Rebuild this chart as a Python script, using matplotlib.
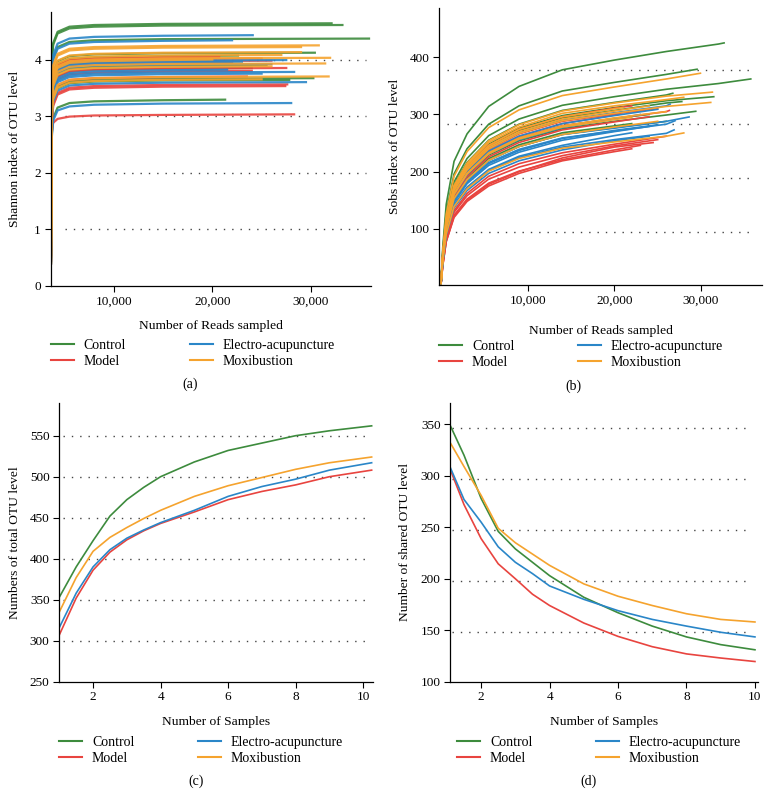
import matplotlib.pyplot as plt

plt.rcParams['font.family'] = ['Liberation Serif', 'DejaVu Serif']

groups = ["Control", "Model", "Electro-acupuncture", "Moxibustion"]
colors = ["#3d8b3d", "#e8443f", "#2a86c8", "#f5a32e"]

# (a) Shannon index rarefaction, values at shared read depths, last value = end of curve
a_reads = [3620, 3700, 3850, 4300, 5500, 8000, 15000]
ctrl_a_end = [32100, 33200, 35900, 30400, 22600, 24000, 30250, 27800, 21300, 25500]
ctrl_a = [
    [0.4, 3.94, 4.29, 4.49, 4.58, 4.61, 4.63, 4.64],
    [0.4, 3.91, 4.26, 4.46, 4.55, 4.58, 4.60, 4.61],
    [0.4, 3.67, 4.02, 4.22, 4.31, 4.34, 4.36, 4.37],
    [0.4, 3.42, 3.77, 3.97, 4.06, 4.09, 4.11, 4.12],
    [0.4, 3.37, 3.72, 3.92, 4.01, 4.04, 4.06, 4.07],
    [0.4, 3.15, 3.50, 3.70, 3.79, 3.82, 3.84, 3.85],
    [0.4, 2.97, 3.32, 3.52, 3.61, 3.64, 3.66, 3.67],
    [0.4, 2.94, 3.29, 3.49, 3.58, 3.61, 3.63, 3.64],
    [0.4, 2.65, 2.96, 3.15, 3.23, 3.26, 3.28, 3.29],
    [0.4, 3.20, 3.55, 3.75, 3.84, 3.87, 3.89, 3.90],
]
model_a_end = [20700, 27500, 27600, 27400, 28300, 26000, 24000, 22000, 25000, 23500]
model_a = [
    [0.4, 3.35, 3.70, 3.90, 3.99, 4.02, 4.04, 4.05],
    [0.4, 3.15, 3.50, 3.70, 3.79, 3.82, 3.84, 3.85],
    [0.4, 2.86, 3.21, 3.41, 3.50, 3.53, 3.55, 3.56],
    [0.4, 2.83, 3.18, 3.38, 3.47, 3.50, 3.52, 3.53],
    [0.4, 2.70, 2.88, 2.95, 2.99, 3.01, 3.02, 3.03],
    [0.4, 3.28, 3.63, 3.83, 3.92, 3.95, 3.97, 3.98],
    [0.4, 3.10, 3.45, 3.65, 3.74, 3.77, 3.79, 3.80],
    [0.4, 3.24, 3.59, 3.79, 3.88, 3.91, 3.93, 3.94],
    [0.4, 3.32, 3.67, 3.87, 3.96, 3.99, 4.01, 4.02],
    [0.4, 3.00, 3.35, 3.55, 3.64, 3.67, 3.69, 3.70],
]
ea_a_end = [24100, 27500, 28300, 29500, 28000, 21500, 26000, 25000, 23000, 22000]
ea_a = [
    [0.4, 3.73, 4.08, 4.28, 4.37, 4.40, 4.42, 4.43],
    [0.4, 3.29, 3.64, 3.84, 3.93, 3.96, 3.98, 3.99],
    [0.4, 3.08, 3.43, 3.63, 3.72, 3.75, 3.77, 3.78],
    [0.4, 2.90, 3.25, 3.45, 3.54, 3.57, 3.59, 3.60],
    [0.4, 2.60, 2.92, 3.10, 3.17, 3.20, 3.22, 3.23],
    [0.4, 3.12, 3.47, 3.67, 3.76, 3.79, 3.81, 3.82],
    [0.4, 3.22, 3.57, 3.77, 3.86, 3.89, 3.91, 3.92],
    [0.4, 3.05, 3.40, 3.60, 3.69, 3.72, 3.74, 3.75],
    [0.4, 3.26, 3.61, 3.81, 3.90, 3.93, 3.95, 3.96],
    [0.4, 3.64, 3.99, 4.19, 4.28, 4.31, 4.33, 4.34],
]
moxi_a_end = [30800, 29000, 29000, 31950, 31450, 31800, 27000, 26000, 25000, 20000]
moxi_a = [
    [0.4, 3.55, 3.90, 4.10, 4.19, 4.22, 4.24, 4.25],
    [0.4, 3.52, 3.87, 4.07, 4.16, 4.19, 4.21, 4.22],
    [0.4, 3.43, 3.78, 3.98, 4.07, 4.10, 4.12, 4.13],
    [0.4, 3.33, 3.68, 3.88, 3.97, 4.00, 4.02, 4.03],
    [0.4, 3.23, 3.58, 3.78, 3.87, 3.90, 3.92, 3.93],
    [0.4, 3.00, 3.35, 3.55, 3.64, 3.67, 3.69, 3.70],
    [0.4, 3.38, 3.73, 3.93, 4.02, 4.05, 4.07, 4.08],
    [0.4, 3.18, 3.53, 3.73, 3.82, 3.85, 3.87, 3.88],
    [0.4, 2.95, 3.30, 3.50, 3.59, 3.62, 3.64, 3.65],
    [0.4, 3.30, 3.65, 3.85, 3.94, 3.97, 3.99, 4.00],
]

# (b) Sobs rarefaction, values at read depths below the end, last value = end of curve
b_reads = [0, 200, 600, 1500, 3000, 5500, 9000, 14000, 20000, 26000, 32000]
ctrl_b_end = [32660, 29540, 35740, 26740, 31470, 27780, 29390, 24000, 26000, 22000]
ctrl_b = [
    [7, 68, 143, 218, 266, 314, 349, 378, 395, 410, 423, 425],
    [6, 61, 129, 196, 240, 283, 315, 341, 356, 370, 379],
    [6, 57, 120, 182, 223, 263, 292, 316, 331, 344, 354, 362],
    [6, 55, 116, 177, 216, 255, 283, 307, 321, 334, 337],
    [6, 54, 113, 172, 210, 248, 276, 298, 312, 324, 331],
    [6, 53, 111, 170, 207, 245, 272, 294, 307, 320, 322.5],
    [5, 49, 104, 159, 194, 229, 254, 275, 288, 299, 305.5],
    [5, 50, 106, 162, 197, 233, 259, 280, 293, 300],
    [5, 48, 100, 153, 186, 220, 244, 265, 277, 288],
    [5, 48, 101, 154, 188, 223, 247, 268, 280, 284],
]
model_b_end = [26350, 24470, 22000, 25000, 20500, 26000, 25000, 23000, 22000, 24000]
model_b = [
    [5, 50, 106, 162, 197, 233, 259, 280, 293, 305, 307],
    [4, 36, 78, 122, 150, 178, 200, 224, 243, 250.8],
    [6, 53, 112, 171, 209, 246, 274, 296, 311, 315],
    [5, 52, 109, 166, 203, 239, 266, 288, 301, 310],
    [5, 51, 107, 163, 200, 236, 262, 284, 299, 300],
    [4, 40, 86, 132, 162, 192, 214, 233, 248, 262],
    [4, 39, 84, 129, 158, 187, 208, 228, 245, 256],
    [4, 37, 80, 124, 152, 180, 201, 221, 238, 246],
    [4, 36, 78, 120, 148, 175, 197, 219, 235, 240],
    [5, 49, 103, 157, 191, 226, 251, 273, 287, 296],
]
ea_b_end = [26430, 28620, 26890, 25000, 27000, 24000, 23000, 25000, 24000, 22000]
ea_b = [
    [5, 52, 110, 167, 204, 241, 268, 290, 303, 315, 318],
    [5, 47, 100, 152, 186, 220, 244, 265, 276, 288, 295.6],
    [4, 43, 92, 140, 171, 202, 225, 243, 256, 267, 273],
    [5, 46, 97, 148, 181, 214, 237, 258, 272, 282],
    [5, 47, 98, 149, 183, 216, 239, 259, 271, 283, 289],
    [5, 46, 96, 146, 179, 211, 234, 255, 270, 279],
    [5, 50, 105, 160, 195, 231, 256, 277, 292, 300],
    [5, 51, 107, 163, 200, 236, 262, 284, 298, 309],
    [4, 42, 90, 137, 167, 197, 219, 238, 254, 262],
    [4, 44, 93, 142, 173, 204, 227, 246, 263, 268],
]
moxi_b_end = [29930, 31310, 31120, 28010, 28000, 24000, 26000, 22000, 21000, 25000]
moxi_b = [
    [6, 60, 126, 192, 235, 277, 308, 333, 348, 362, 372],
    [6, 55, 116, 176, 215, 254, 282, 306, 320, 332, 339],
    [5, 52, 109, 167, 203, 240, 267, 289, 302, 314, 321],
    [4, 43, 91, 139, 170, 201, 223, 241, 252, 262, 267.7],
    [6, 54, 114, 174, 212, 251, 278, 302, 315, 326, 330],
    [6, 52, 110, 168, 206, 243, 270, 292, 306, 315],
    [5, 50, 106, 162, 197, 233, 259, 280, 294, 305],
    [5, 50, 105, 160, 196, 231, 257, 278, 291, 295],
    [6, 53, 112, 171, 209, 246, 274, 296, 310, 312],
    [5, 48, 100, 153, 186, 220, 244, 265, 278, 288],
]

# (c) pan OTU curve
c_samples = [1, 1.5, 2, 2.5, 3, 3.5, 4, 5, 6, 7, 8, 9, 10.25]
ctrl_c = [353, 390, 422, 452, 472, 487, 500, 518, 532, 541, 550, 556, 562]
model_c = [307, 352, 386, 408, 423, 434, 443, 457, 472, 482, 490, 500, 508]
ea_c = [316, 358, 390, 411, 425, 435, 444, 459, 476, 488, 497, 508, 517]
moxi_c = [335, 377, 409, 426, 438, 449, 459, 476, 489, 499, 509, 517, 524]

# (d) core OTU curve
d_samples = [1.1, 1.5, 2, 2.5, 3, 3.5, 4, 5, 6, 7, 8, 9, 10]
ctrl_d = [348.7, 320, 278, 246, 229, 216, 203, 182, 167, 154, 143.5, 136, 131]
model_d = [306, 272, 239, 214.5, 200, 185, 174, 157, 144, 134, 127, 123, 119.6]
ea_d = [308, 277, 255, 231, 216, 205, 193, 180, 169, 160.5, 154, 148, 143.5]
moxi_d = [332, 309, 281, 249, 235, 224, 213, 195, 183, 174, 166, 160.5, 158]

W, H = 771, 807
fig = plt.figure(figsize=(W / 100, H / 100), dpi=100)


def add_axes(left, top, right, bottom):
    return fig.add_axes([left / W, 1 - bottom / H, (right - left) / W, (bottom - top) / H])


def style(ax, grid, gx0, gx1):
    for s in ["top", "right"]:
        ax.spines[s].set_visible(False)
    for s in ["left", "bottom"]:
        ax.spines[s].set_linewidth(0.9)
    ax.tick_params(direction="out", length=4, width=0.8, labelsize=9.5, pad=3)
    for g in grid:
        ax.axhline(g, xmin=gx0, xmax=gx1, color="#444444", lw=1.0,
                   linestyle=(0, (1, 5)), zorder=0)


def labels(ax, xlab, ylab, xl_y, yl_x, tag, tag_x, tag_y, leg_x, leg_y):
    ax.text(0.5, xl_y, xlab, transform=ax.transAxes, ha="center", va="center", fontsize=9.7)
    ax.text(yl_x, 0.5, ylab, transform=ax.transAxes, ha="center", va="center",
            rotation=90, fontsize=9.7)
    ax.text(tag_x, tag_y, tag, transform=ax.transAxes, ha="center", va="center", fontsize=10)
    handles = [plt.Line2D([], [], color=c, lw=1.5) for c in colors]
    ax.legend(handles, groups, ncol=2, loc="upper left", bbox_to_anchor=(leg_x, leg_y),
              frameon=False, fontsize=10, handlelength=1.65, handletextpad=0.7,
              columnspacing=4.6, labelspacing=0.2, borderpad=0, borderaxespad=0)


# (a)
ax = add_axes(50.7, 12, 371, 285.7)
for color, ends, curves in zip(colors, [ctrl_a_end, model_a_end, ea_a_end, moxi_a_end],
                               [ctrl_a, model_a, ea_a, moxi_a]):
    for end, vals in zip(ends, curves):
        ax.plot(a_reads + [end], vals, color=color, lw=1.6, alpha=0.9)
ax.set_xlim(3600, 36100)
ax.set_ylim(0, 4.84)
ax.set_xticks([10000, 20000, 30000], ["10,000", "20,000", "30,000"])
ax.set_yticks([0, 1, 2, 3, 4])
style(ax, [1, 2, 3, 4], 0.045, 0.984)
labels(ax, "Number of Reads sampled", "Shannon index of OTU level", -0.147, -0.111,
       "(a)", 0.435, -0.359, 0.0, -0.195)

# (b)
ax = add_axes(439.3, 8, 761.7, 285)
for color, ends, curves in zip(colors, [ctrl_b_end, model_b_end, ea_b_end, moxi_b_end],
                               [ctrl_b, model_b, ea_b, moxi_b]):
    for end, vals in zip(ends, curves):
        ax.plot(b_reads[:len(vals) - 1] + [end], vals, color=color, lw=1.2)
ax.set_xlim(-200, 37000)
ax.set_ylim(2, 486)
ax.set_xticks([10000, 20000, 30000], ["10,000", "20,000", "30,000"])
ax.set_yticks([100, 200, 300, 400])
style(ax, [94.5, 189, 283.5, 378], 0.023, 0.964)
labels(ax, "Number of Reads sampled", "Sobs index of OTU level", -0.165, -0.137,
       "(b)", 0.415, -0.365, 0.0, -0.199)

# (c)
ax = add_axes(59.3, 403.3, 373, 681.7)
for color, vals in zip(colors, [ctrl_c, model_c, ea_c, moxi_c]):
    ax.plot(c_samples, vals, color=color, lw=1.2)
ax.set_xlim(1, 10.29)
ax.set_ylim(250, 589.5)
ax.set_xticks([2, 4, 6, 8, 10])
ax.set_yticks([250, 300, 350, 400, 450, 500, 550])
style(ax, [300, 350, 400, 450, 500, 550], 0.012, 0.984)
labels(ax, "Number of Samples", "Numbers of total OTU level", -0.144, -0.141,
       "(c)", 0.436, -0.357, 0.0, -0.195)

# (d)
ax = add_axes(450.3, 402.7, 757.7, 681.7)
for color, vals in zip(colors, [ctrl_d, model_d, ea_d, moxi_d]):
    ax.plot(d_samples, vals, color=color, lw=1.2)
ax.set_xlim(1.1, 10.08)
ax.set_ylim(100, 371)
ax.set_xticks([2, 4, 6, 8, 10])
ax.set_yticks([100, 150, 200, 250, 300, 350])
style(ax, [148.5, 198, 247.5, 297, 346.5], 0.005, 0.98)
labels(ax, "Number of Samples", "Number of shared OTU level", -0.144, -0.147,
       "(d)", 0.45, -0.357, 0.023, -0.195)

fig.savefig("out.png", dpi=100)
